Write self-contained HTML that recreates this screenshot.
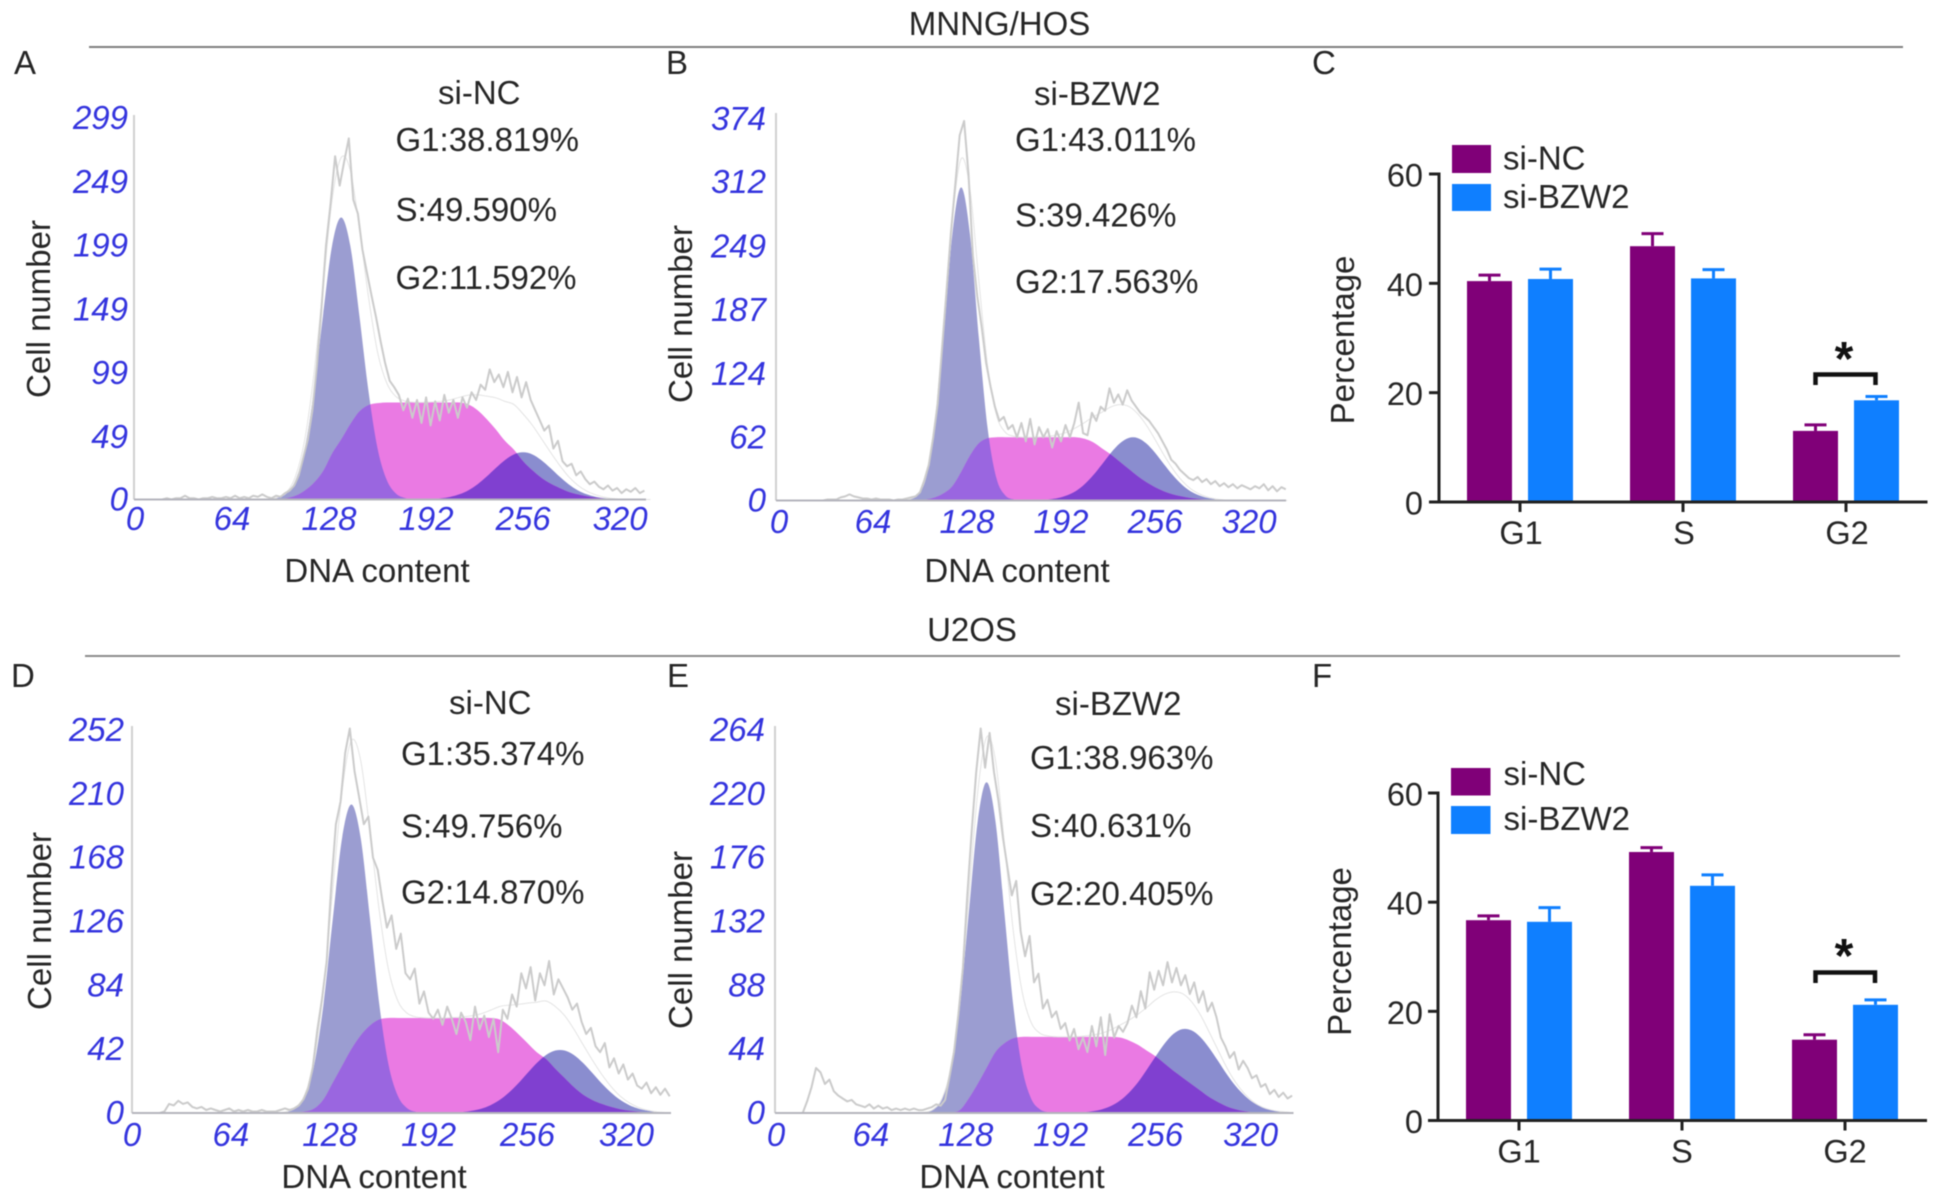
<!DOCTYPE html>
<html lang="en">
<head>
<meta charset="utf-8">
<title>Cell cycle distribution: MNNG/HOS and U2OS</title>
<style>
html,body{margin:0;padding:0;background:#fff;}
svg{display:block;filter:blur(0.6px);}
text{font-family:"Liberation Sans",Arial,sans-serif;fill:#262626;font-size:33px;}
.tick{font-style:italic;fill:#3434de;font-size:33px;}
.num{font-size:32.5px;}
</style>
</head>
<body>
<svg id="figure" xmlns="http://www.w3.org/2000/svg" width="1941" height="1201" viewBox="0 0 1941 1201">
  <rect width="1941" height="1201" fill="#fff"/>

  <text x="999.5" y="35" text-anchor="middle">MNNG/HOS</text>
  <line x1="89" x2="1903" y1="47" y2="47" stroke="#808080" stroke-width="2"/>
  <text x="972" y="641" text-anchor="middle">U2OS</text>
  <line x1="85" x2="1900" y1="656" y2="656" stroke="#8c8c8c" stroke-width="2"/>

  <text x="14" y="74">A</text>
  <text x="666" y="74">B</text>
  <text x="1312" y="74">C</text>
  <text x="11" y="687">D</text>
  <text x="667" y="687">E</text>
  <text x="1312" y="687">F</text>

  <g id="panelA"></g>
  <g id="panelB"></g>
  <g id="panelD"></g>
  <g id="panelE"></g>
  <g id="panelC"></g>
  <g id="panelF"></g>

  <!-- Panel A text -->
  <text x="438" y="104">si-NC</text>
  <text x="395.5" y="151">G1:38.819%</text>
  <text x="395.5" y="221">S:49.590%</text>
  <text x="395.5" y="289">G2:11.592%</text>
  <text x="377" y="582" text-anchor="middle">DNA content</text>
  <text transform="translate(50 309) rotate(-90)" text-anchor="middle">Cell number</text>

  <!-- Panel B text -->
  <text x="1034" y="105">si-BZW2</text>
  <text x="1015" y="151">G1:43.011%</text>
  <text x="1015" y="226.5">S:39.426%</text>
  <text x="1015" y="293">G2:17.563%</text>
  <text x="1017" y="582" text-anchor="middle">DNA content</text>
  <text transform="translate(692 314) rotate(-90)" text-anchor="middle">Cell number</text>

  <!-- Panel D text -->
  <text x="449" y="714">si-NC</text>
  <text x="401" y="765">G1:35.374%</text>
  <text x="401" y="837.5">S:49.756%</text>
  <text x="401" y="903.5">G2:14.870%</text>
  <text x="374" y="1188" text-anchor="middle">DNA content</text>
  <text transform="translate(51 921) rotate(-90)" text-anchor="middle">Cell number</text>

  <!-- Panel E text -->
  <text x="1055" y="715">si-BZW2</text>
  <text x="1030" y="769">G1:38.963%</text>
  <text x="1030" y="837">S:40.631%</text>
  <text x="1030" y="905">G2:20.405%</text>
  <text x="1012" y="1188" text-anchor="middle">DNA content</text>
  <text transform="translate(692 940) rotate(-90)" text-anchor="middle">Cell number</text>

  <!-- Panel C text and legend -->
  <text transform="translate(1354 340) rotate(-90)" text-anchor="middle">Percentage</text>
  <rect x="1452" y="145" width="39" height="28" fill="#800078"/>
  <rect x="1452" y="184" width="39" height="27" fill="#0f7fff"/>
  <text x="1503" y="169.5">si-NC</text>
  <text x="1503" y="208">si-BZW2</text>
  <path d="M1815.5 385V374.5H1875.5V385" fill="none" stroke="#111" stroke-width="4.5"/>
  <text x="1844" y="375" text-anchor="middle" style="font-size:48px;font-weight:bold;fill:#111">*</text>

  <!-- Panel F text and legend -->
  <text transform="translate(1351 951.5) rotate(-90)" text-anchor="middle">Percentage</text>
  <rect x="1451" y="768" width="39.5" height="27.5" fill="#800078"/>
  <rect x="1451" y="806" width="39.5" height="28" fill="#0f7fff"/>
  <text x="1503.5" y="785">si-NC</text>
  <text x="1503.5" y="830">si-BZW2</text>
  <path d="M1815.5 983V972.5H1875V983" fill="none" stroke="#111" stroke-width="4.5"/>
  <text x="1844" y="972" text-anchor="middle" style="font-size:48px;font-weight:bold;fill:#111">*</text>
</svg>

<script>
// ---------- shared axis data ----------
const dnaTicks = [0, 64, 128, 192, 256, 320];
const fitBins = [88,94,100,106,112,118,124,130,136,142,148,154,160,166,172,178,184,190,196,202,208,214,220,226,232,238,244,250,256,262,268,274,280,286,292,298,304,310,316,322,328,334,340,346];
const histStep = 3;

// ---------- panel A ----------
const aYTicks = [0, 49, 99, 149, 199, 249, 299];
const aG1 = [.2,1.2,4.8,15.5,40,85,144,199,221,199,144,85,40,15.5,4.8,1.2,.2];
const aS = [0,.5,1,3,7,13,22,36,47,59,69,74,75.5,76,76,76,76,76,76,76,76,76,74.5,70,63,55,46,39,30,23,17,12.5,9,6,4,2.5,1.5,.7,.3,0];
const aG2 = [0,0,0,0,0,0,0,0,0,0,0,0,0,0,0,0,0,.15,.4,1,2.1,4.1,7.3,12,18,24.7,30.9,35.4,37,35.4,30.9,24.7,18,12,7.3,4.1,2.1,1,.4,.15,0];
const aHist = [0,0,0,0,0,0,0,1,0,1, 1,3,1,1,0,1,1,2,1,1, 2,1,3,1,2,1,3,2,4,2, 1,3,2,5,7,11,19,33,47,70, 105,150,199,232,269,246,265,283,235,224, 196,178,160,143,124,107,93,88,82,70, 79,64,78,60,80,58,77,62,82,68, 78,64,80,72,84,78,90,86,102,92, 98,88,100,84,96,80,92,78,70,62, 54,58,40,46,30,26,28,19,22,16, 12,14,10,8,11,7,9,5,8,6, 9,5,7];

// ---------- panel B ----------
const bYTicks = [0, 62, 124, 187, 249, 312, 374];
const bG1 = [1,5,22,71,160,261,307,261,160,71,22,5,1];
const bS = [0,.3,1,3,7,14,28,44,56,61,62,62,62,62,62,62,62,62,62,62,60.5,57,51,45,38,31,24,18,13,9,6,4,2.5,1.5,.8,.3,0];
const bG2 = [0,0,0,0,0,0,0,0,0,0,0,0,0,0,0,.4,1.1,2.4,5,9.2,15.9,25,35.7,46.8,56,61.3,61.3,56,46.8,35.7,25,15.9,9.2,5,2.4,1.1,.4,0];
const bHist = [0,0,0,0,0,0,0,0,0,0, 0,1,1,1,3,4,6,4,3,2, 2,1,2,1,1,1,0,1,1,2, 3,4,8,20,35,62,95,150,205,262, 310,358,372,320,240,200,170,135,112,92, 78,82,70,74,62,76,58,80,55,72, 62,70,52,68,58,74,62,76,96,66, 64,86,78,92,88,110,96,104,94,108, 98,92,86,82,78,72,66,58,50,40, 36,30,26,22,20,23,18,21,16,19, 14,17,13,16,12,15,13,11,14,12, 16,10,14,9,13,11];

// ---------- panel D ----------
const dYTicks = [0, 42, 84, 126, 168, 210, 252];
const dG1 = [0,.1,.7,3.2,11.4,32,72,128,181,203,181,128,72,32,11.4,3.2,.7,.1];
const dS = [0,0,.2,.5,1,3,9,20,31,42,51,57.5,61.5,62.5,62.5,62.5,62.5,62.5,62.5,62.5,62.5,62.5,62.5,62.5,62.5,61.5,57.5,52,46,40,35.5,29,23,17,12,8.5,6,4,2.5,1.5,.8,.3,0];
const dG2 = [0,0,0,0,0,0,0,0,0,0,0,0,0,0,0,0,0,0,0,0,.3,.7,1.5,2.8,5.1,8.6,13.5,19.5,26.3,32.9,38.2,41.1,41.1,38.2,32.9,26.3,19.5,13.5,8.6,5.1,2.8,1.5,.7,.3];
const dHist = [0,0,0,0,0,0,0,1,6,5, 8,6,7,4,3,4,2,3,2,1, 2,3,1,2,1,2,1,1,2,1, 1,1,2,3,2,3,5,9,16,30, 55,75,100,150,190,205,237,253,225,208, 190,195,168,160,140,122,130,108,118,92, 88,95,72,80,66,62,68,58,70,62, 52,66,60,48,70,55,64,50,62,40, 68,62,78,70,92,82,96,74,92,84, 100,78,88,82,76,68,72,60,52,56, 44,40,46,30,36,26,32,22,26,18, 16,20,13,17,12,16,11];

// ---------- panel E ----------
const eYTicks = [0, 44, 88, 132, 176, 220, 264];
const eG1 = [0,0,.5,2.5,10,31,74,138,201,228,201,138,74,31,10,2.5,.5];
const eS = [0,0,0,0,0,.5,2,10,20,31,42,48,51.5,52.5,52.5,52.5,52.5,52.5,52.5,52.5,52.5,52.5,52.5,52.5,52,50,47,43,39,34,29,24.5,20,15.5,11,7.5,4.5,2.5,1.2,.5,0];
const eG2 = [0,0,0,0,0,0,0,0,0,0,0,0,0,0,0,0,0,0,0,0,.6,1.3,2.6,4.9,8.6,14,21,29.8,39,47.8,54.5,57.8,57,52.5,45,36,26.7,18.5,12,7.1,4,2.1,1,.5];
const eHist = [0,0,0,0,0,0,0,8,18,31, 28,20,23,15,12,10,8,9,6,5, 4,6,3,5,3,4,2,3,2,3, 2,3,2,2,3,4,6,5,9,25, 42,68,100,150,195,235,265,238,262,235, 215,190,170,150,160,125,108,122,90,96, 72,78,66,70,58,62,50,58,44,52, 42,60,46,66,40,68,52,60,56,62, 74,66,84,72,97,85,98,88,104,90, 100,88,95,82,90,76,84,70,76,66, 52,46,38,42,30,36,31,24,26,18, 20,13,16,11,14,10,12];

// ---------- bar charts ----------
const phaseLabels = ['G1', 'S', 'G2'];
const percentTicks = [0, 20, 40, 60];
const cNcMeans = [40.4, 46.8, 13.0];
const cNcErrors = [1.1, 2.3, 1.1];
const cBzwMeans = [40.8, 40.9, 18.6];
const cBzwErrors = [1.8, 1.6, 0.7];
const fNcMeans = [36.7, 49.2, 14.8];
const fNcErrors = [0.8, 0.8, 0.9];
const fBzwMeans = [36.4, 43.0, 21.2];
const fBzwErrors = [2.6, 2.0, 0.9];

const NS = 'http://www.w3.org/2000/svg';
function mk(tag, attrs, parent) {
  const el = document.createElementNS(NS, tag);
  for (const k in attrs) el.setAttribute(k, attrs[k]);
  parent.appendChild(el);
  return el;
}
function splinePath(pts) {
  let d = 'M' + pts[0][0].toFixed(2) + ' ' + pts[0][1].toFixed(2);
  for (let i = 0; i < pts.length - 1; i++) {
    const p0 = pts[Math.max(i - 1, 0)], p1 = pts[i], p2 = pts[i + 1], p3 = pts[Math.min(i + 2, pts.length - 1)];
    const c1x = p1[0] + (p2[0] - p0[0]) / 6, c1y = p1[1] + (p2[1] - p0[1]) / 6;
    const c2x = p2[0] - (p3[0] - p1[0]) / 6, c2y = p2[1] - (p3[1] - p1[1]) / 6;
    d += 'C' + c1x.toFixed(2) + ' ' + c1y.toFixed(2) + ' ' + c2x.toFixed(2) + ' ' + c2y.toFixed(2) + ' ' + p2[0].toFixed(2) + ' ' + p2[1].toFixed(2);
  }
  return d;
}

function drawHistogram(id, o, yTicks, g1, s, g2, hist) {
  const g = document.getElementById(id);
  const key = id.slice(-1).toLowerCase();
  const xScale = v => o.x0 + v * o.xUnit;
  const yScale = v => o.y0 - v * (o.y0 - o.yTopPx) / yTicks[yTicks.length - 1];
  const n = fitBins.filter(b => xScale(b) <= o.xEnd + 6).length;
  const curve = arr => {
    const pts = [];
    for (let i = 0; i < n; i++) pts.push([xScale(fitBins[i]), yScale(arr[i] || 0)]);
    return pts;
  };
  const area = arr => {
    const pts = curve(arr);
    return splinePath(pts) + 'L' + pts[pts.length - 1][0].toFixed(2) + ' ' + o.y0 + 'L' + pts[0][0].toFixed(2) + ' ' + o.y0 + 'Z';
  };

  const defs = mk('defs', {}, g);
  const clipG1 = mk('clipPath', { id: 'clip-g1-' + key }, defs);
  mk('path', { d: area(g1) }, clipG1);
  const clipG2 = mk('clipPath', { id: 'clip-g2-' + key }, defs);
  mk('path', { d: area(g2) }, clipG2);

  const g1Area = mk('path', { d: area(g1), fill: '#9b9dd1' }, g);
  
  
  const g2Area = mk('path', { d: area(g2), fill: '#8a8dcf' }, g);
  
  
  const sArea = mk('path', { d: area(s), fill: '#ea7ae3' }, g);
  
  
  const overlap1 = mk('path', { d: area(s), fill: '#9a66e0', 'clip-path': 'url(#clip-g1-' + key + ')' }, g);
  
  
  const overlap2 = mk('path', { d: area(s), fill: '#8040d0', 'clip-path': 'url(#clip-g2-' + key + ')' }, g);
  
  

  const totals = fitBins.map((b, i) => (g1[i] || 0) + (s[i] || 0) + (g2[i] || 0));
  const fitLine = mk('path', { d: splinePath(curve(totals)), fill: 'none', stroke: '#e4e4e4', 'stroke-width': 1 }, g);
  
  

  const histPts = hist.map((v, i) => xScale(i * histStep).toFixed(1) + ',' + yScale(v).toFixed(1)).join(' ');
  const histLine = mk('polyline', { points: histPts, fill: 'none', stroke: '#cbcbcb', 'stroke-width': 2, 'stroke-linejoin': 'round' }, g);
  
  

  const yAxis = mk('line', { x1: o.axisX, x2: o.axisX, y1: o.axisTop, y2: o.y0, stroke: '#d0d0d0', 'stroke-width': 2 }, g);
  
  
  const xAxis = mk('line', { x1: o.axisX, x2: o.xEnd, y1: o.y0, y2: o.y0, stroke: '#b4b4bc', 'stroke-width': 2 }, g);
  
  

  dnaTicks.forEach(v => {
    const t = mk('text', { x: xScale(v).toFixed(1), y: o.xLabelY, 'text-anchor': 'middle', class: 'tick' }, g);
    t.textContent = v;
    
    
  });
  yTicks.forEach(v => {
    const t = mk('text', { x: o.yLabelX, y: (yScale(v) + 11).toFixed(1), 'text-anchor': 'end', class: 'tick' }, g);
    t.textContent = v;
    
    
  });
}

function drawBars(id, o, ncMeans, ncErrors, bzwMeans, bzwErrors) {
  const g = document.getElementById(id);
  const key = id.slice(-1).toLowerCase();
  const yScale = v => o.y0 - v * (o.y0 - o.yTop) / 60;
  const xCenter = i => o.x0 + i * o.step;
  const colors = ['#800078', '#0f7fff'];
  const drawBar = (cx, mean, err, color, label) => {
    const bar = mk('rect', { x: (cx - o.barW / 2).toFixed(1), y: yScale(mean).toFixed(1), width: o.barW, height: (o.y0 - yScale(mean)).toFixed(1), fill: color }, g);
    
    
    const top = yScale(mean + err);
    const stem = mk('line', { x1: cx, x2: cx, y1: yScale(mean), y2: top, stroke: color, 'stroke-width': 3 }, g);
    
    
    const cap = mk('line', { x1: cx - 11, x2: cx + 11, y1: top, y2: top, stroke: color, 'stroke-width': 3 }, g);
    
    
  };
  phaseLabels.forEach((name, i) => {
    const c = xCenter(i);
    drawBar(c - 30.5, ncMeans[i], ncErrors[i], colors[0], 'si-nc-' + name.toLowerCase());
    drawBar(c + 30.5, bzwMeans[i], bzwErrors[i], colors[1], 'si-bzw2-' + name.toLowerCase());
    const tick = mk('line', { x1: c, x2: c, y1: o.y0, y2: o.y0 + 10, stroke: '#222', 'stroke-width': 3 }, g);
    
    
    const lab = mk('text', { x: c + o.labelShift, y: o.y0 + 42, 'text-anchor': 'middle', class: 'num' }, g);
    lab.textContent = name;
    
    
  });
  const yAxis = mk('line', { x1: o.axisX, x2: o.axisX, y1: o.yTop - 1.5, y2: o.y0 + 1.5, stroke: '#222', 'stroke-width': 3 }, g);
  
  
  const xAxis = mk('line', { x1: o.axisX - 10, x2: o.xEnd, y1: o.y0, y2: o.y0, stroke: '#222', 'stroke-width': 3 }, g);
  
  
  percentTicks.forEach(v => {
    const tick = mk('line', { x1: o.axisX - 10, x2: o.axisX, y1: yScale(v), y2: yScale(v), stroke: '#222', 'stroke-width': 3 }, g);
    
    
    const lab = mk('text', { x: 1423, y: (yScale(v) + 12.5).toFixed(1), 'text-anchor': 'end', class: 'num' }, g);
    lab.textContent = v;
    
    
  });
}

drawHistogram('panelA', { x0: 135, xUnit: 1.516, y0: 499.5, yTopPx: 118, axisX: 134, axisTop: 115, xEnd: 646, xLabelY: 530, yLabelX: 128 }, aYTicks, aG1, aS, aG2, aHist);
drawHistogram('panelB', { x0: 779, xUnit: 1.469, y0: 500.5, yTopPx: 119, axisX: 776, axisTop: 113, xEnd: 1286, xLabelY: 533, yLabelX: 766 }, bYTicks, bG1, bS, bG2, bHist);
drawHistogram('panelD', { x0: 132, xUnit: 1.545, y0: 1113, yTopPx: 730, axisX: 132, axisTop: 726, xEnd: 671, xLabelY: 1146, yLabelX: 124 }, dYTicks, dG1, dS, dG2, dHist);
drawHistogram('panelE', { x0: 776, xUnit: 1.483, y0: 1113, yTopPx: 730, axisX: 775, axisTop: 726, xEnd: 1293.5, xLabelY: 1146, yLabelX: 765 }, eYTicks, eG1, eS, eG2, eHist);
drawBars('panelC', { x0: 1520, step: 163, barW: 45, y0: 502, yTop: 174, axisX: 1439, xEnd: 1927.5, labelShift: 1 }, cNcMeans, cNcErrors, cBzwMeans, cBzwErrors);
drawBars('panelF', { x0: 1519, step: 163, barW: 45, y0: 1120.5, yTop: 793, axisX: 1438, xEnd: 1927, labelShift: 0 }, fNcMeans, fNcErrors, fBzwMeans, fBzwErrors);
</script>
</body>
</html>
